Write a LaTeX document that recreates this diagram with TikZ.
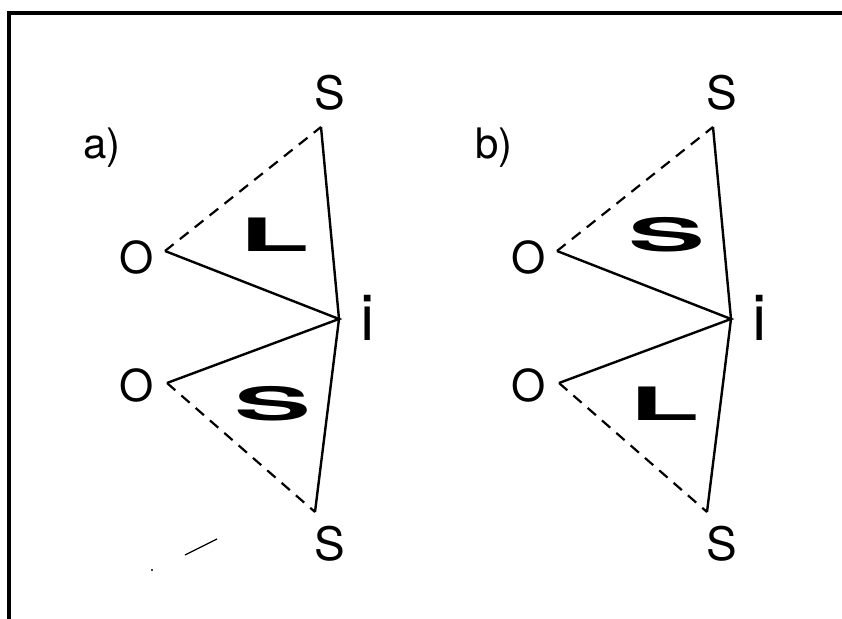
\documentclass[tikz,border=0pt]{standalone}
\usepackage{fontspec}
\setmainfont{TeX Gyre Heros}
\usetikzlibrary{positioning}
\tikzset{
  frame/.style={line width=2pt},
  leg/.style={line width=1.2pt, line join=miter},
  hidden/.style={line width=1.1pt, dash pattern=on 5.5pt off 4pt},
  lbl/.style={inner sep=0pt, font=\fontsize{23}{26}\selectfont},
  olbl/.style={inner sep=0pt, font=\fontsize{22}{26}\selectfont},
  ilbl/.style={inner sep=0pt, font=\fontsize{32}{36}\selectfont},
  tag/.style={inner sep=0pt, font=\fontsize{21}{24}\selectfont},
  heavy/.style={inner sep=0pt, font=\fontsize{23}{26}\selectfont\bfseries}
}
\begin{document}
\begin{tikzpicture}[x=0.5pt,y=-0.5pt]
\useasboundingbox (0,0) rectangle (842,619);
\draw[frame] (9,619) -- (9,13) -- (842,13);
% two panels, the second one shifted to the right
\foreach \dx/\pn/\up/\dn in {0/a/L/S,392/b/S/L}{
  \coordinate (st\pn) at (\dx+321,127);
  \coordinate (ot\pn) at (\dx+165,251);
  \coordinate (i\pn) at (\dx+339,319);
  \coordinate (ob\pn) at (\dx+167,383);
  \coordinate (sb\pn) at (\dx+315,512);
  \node[tag] (tag\pn) at (\dx+102,148) {\pn)};
  \node[lbl] (nst\pn) at (\dx+330,93) {S};
  \node[olbl] (not\pn) at (\dx+137,257) {O};
  \node[ilbl] (ni\pn) at (\dx+368,318) {i};
  \node[olbl] (nob\pn) at (\dx+137,385) {O};
  \node[lbl] (nsb\pn) at (\dx+330,544) {S};
  \node[heavy] (up\pn) at (\dx+275,235) {\scalebox{2.5}[1]{\up}};
  \node[heavy] (dn\pn) at (\dx+273,404) {\scalebox{2.5}[1]{\dn}};
  \draw[leg] (st\pn) -- (i\pn) -- (sb\pn);
  \draw[leg] (ot\pn) -- (i\pn) -- (ob\pn);
  \draw[hidden] (ot\pn) -- (st\pn);
  \draw[hidden] (ob\pn) -- (sb\pn);
}
% stray mark below panel a
\draw[line width=0.6pt] (185,555) -- (217,539);
\fill (152,570) circle (1.2);
\end{tikzpicture}
\end{document}
